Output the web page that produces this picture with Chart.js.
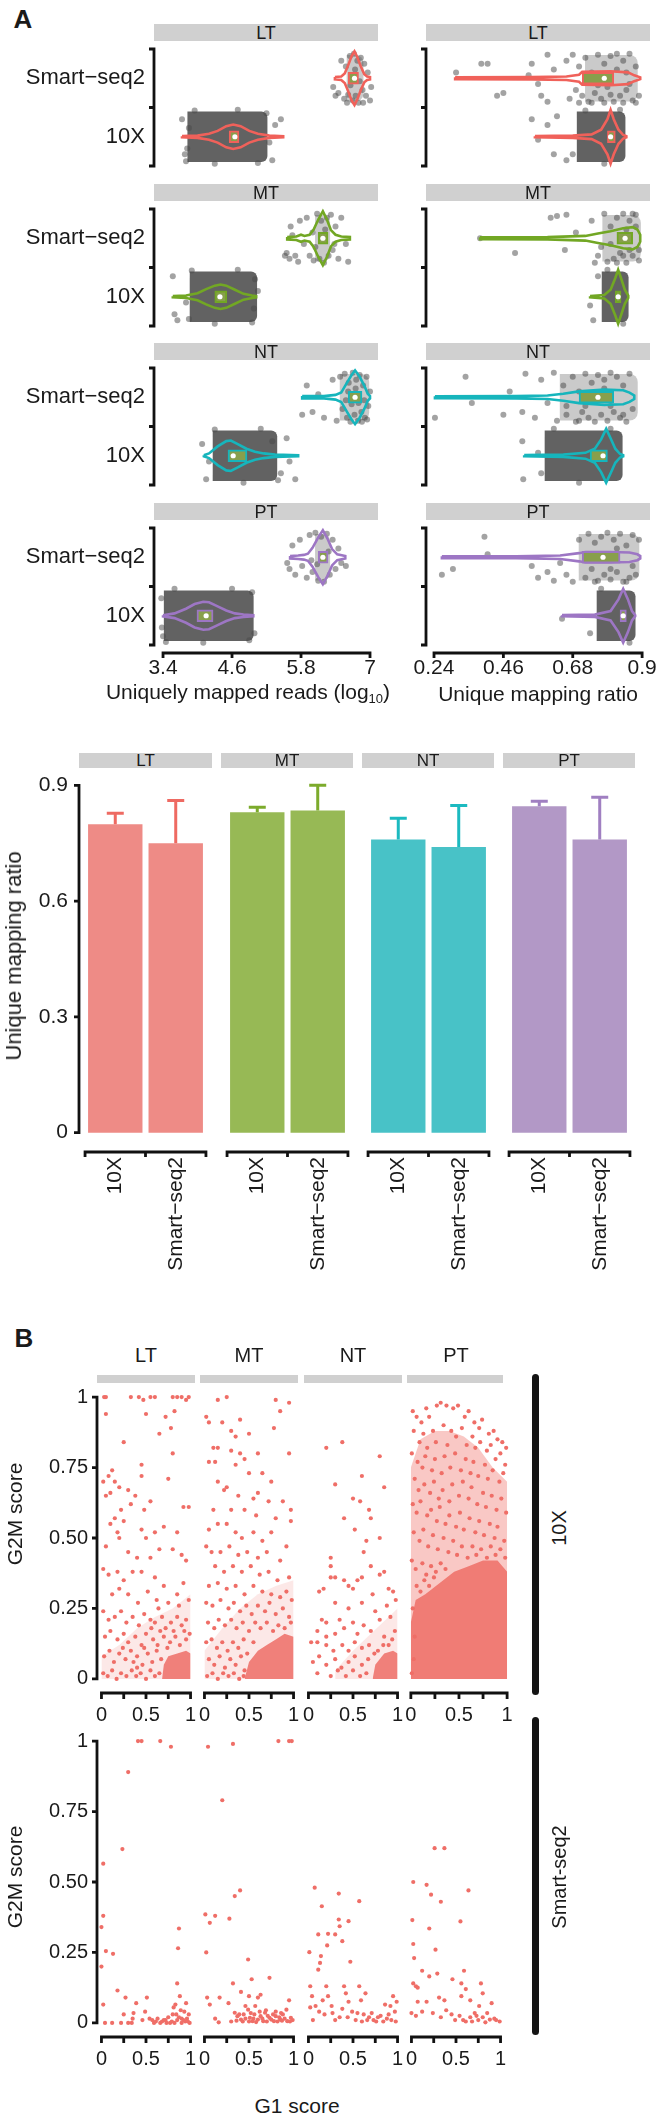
<!DOCTYPE html>
<html>
<head>
<meta charset="utf-8">
<script src="https://cdn.jsdelivr.net/npm/chart.js@4.4.1/dist/chart.umd.min.js"></script>
<style>
html, body { margin: 0; padding: 0; background: #fff; overflow: hidden; }
body { width: 658px; height: 2119px; position: relative; font-family: "Liberation Sans", Arial, sans-serif; color: #1a1a1a; }
canvas { position: absolute; }
.strip { position: absolute; background: #d0d0d0; text-align: center; }
.lbl { position: absolute; white-space: nowrap; line-height: 1; transform: translate(-50%, -50%); }
.vlbl { position: absolute; white-space: nowrap; line-height: 1; transform: translate(-50%, -50%) rotate(-90deg); }
.facetbar { position: absolute; background: #141414; border-radius: 4px; }
sub { font-size: 13px; vertical-align: -4px; }
</style>
</head>
<body>
<script>
// ---- panel A, top: uniquely mapped reads (log10) and unique mapping ratio ----
const tissues = ['LT', 'MT', 'NT', 'PT'];
const platforms = ['Smart\u2212seq2', '10X'];
const readsTicks = [3.4, 4.6, 5.8, 7];
const ratioTicks = [0.24, 0.46, 0.68, 0.9];
const readsRange = [3.243, 7.139];
const ratioRange = [0.2146, 0.925];

// violin profiles: [value, half width in category units]
const readsViolinSS2 = [
  [[6.39,0.02],[6.5,0.03],[6.56,0.08],[6.62,0.22],[6.68,0.38],[6.73,0.46],[6.78,0.36],[6.84,0.2],[6.9,0.07],[6.95,0.03],[7.0,0.02]],
  [[5.56,0.02],[5.72,0.03],[5.8,0.06],[5.86,0.04],[5.95,0.06],[6.02,0.15],[6.1,0.32],[6.18,0.46],[6.25,0.32],[6.32,0.14],[6.4,0.06],[6.5,0.03],[6.65,0.02]],
  [[5.82,0.02],[6.2,0.02],[6.4,0.04],[6.5,0.08],[6.6,0.25],[6.68,0.38],[6.74,0.46],[6.82,0.35],[6.9,0.2],[6.96,0.06],[7.0,0.02]],
  [[5.61,0.02],[5.75,0.03],[5.85,0.04],[5.92,0.06],[6.0,0.16],[6.1,0.34],[6.18,0.46],[6.26,0.32],[6.34,0.14],[6.43,0.05],[6.57,0.02]]
];
const readsViolin10X = [
  [[3.73,0.01],[4.0,0.02],[4.2,0.05],[4.35,0.1],[4.5,0.18],[4.62,0.21],[4.75,0.18],[4.9,0.1],[5.05,0.05],[5.25,0.02],[5.49,0.01]],
  [[3.57,0.01],[3.8,0.02],[4.0,0.06],[4.15,0.13],[4.3,0.19],[4.4,0.21],[4.5,0.19],[4.65,0.12],[4.8,0.05],[4.95,0.02],[5.02,0.01]],
  [[4.11,0.01],[4.2,0.04],[4.35,0.16],[4.5,0.25],[4.58,0.26],[4.7,0.2],[4.85,0.12],[5.0,0.07],[5.15,0.04],[5.35,0.02],[5.75,0.01]],
  [[3.4,0.01],[3.6,0.04],[3.8,0.12],[3.95,0.2],[4.1,0.24],[4.2,0.23],[4.35,0.16],[4.5,0.09],[4.65,0.04],[4.8,0.02],[4.97,0.01]]
];
// boxes: [q1, median, q3]
const readsBoxSS2 = [[6.62,6.73,6.8],[6.1,6.18,6.27],[6.62,6.74,6.86],[6.1,6.18,6.27]];
const readsBox10X = [[4.55,4.65,4.72],[4.3,4.39,4.51],[4.53,4.62,4.86],[3.99,4.15,4.27]];
// range where the cells pile up into a cloud
const readsCloud10X = [[3.83,5.21],[3.87,5.03],[4.27,5.38],[3.42,4.97]];
const readsCloudSS2 = [[6.6,6.88],[6.05,6.3],[6.48,6.98],[6.05,6.3]];
// single cells: value, jitter
const readsPointsSS2 = [
  [6.36,0.15, 6.4,0.3, 6.45,0.25, 6.5,-0.3, 6.55,0.35, 6.58,-0.2, 6.62,0.28, 6.65,-0.38, 6.7,0.38, 6.72,-0.42, 6.75,0.3, 6.78,-0.3, 6.8,0.42, 6.84,-0.35, 6.87,0.2, 6.9,-0.25, 6.93,0.3, 6.96,-0.1, 7.0,0.38, 7.02,0.15, 6.66,0.12, 6.82,0.05, 6.74,-0.15, 6.6,0.42, 6.88,0.42],
  [5.52,0.3, 5.55,0.25, 5.6,0.35, 5.62,-0.2, 5.7,0.3, 5.75,0.4, 5.78,-0.3, 5.85,0.1, 5.9,-0.35, 5.95,0.3, 6.0,-0.1, 6.02,0.38, 6.08,-0.42, 6.12,0.35, 6.15,-0.3, 6.2,0.42, 6.25,-0.35, 6.28,0.3, 6.32,-0.4, 6.35,0.2, 6.4,-0.2, 6.45,0.35, 6.5,-0.35, 6.58,0.1, 6.62,0.4, 5.65,-0.05, 6.05,0.15, 6.22,-0.15, 6.38,0.1],
  [5.82,0.3, 5.9,-0.2, 6.0,0.25, 6.1,-0.05, 6.2,0.35, 6.35,-0.3, 6.42,0.4, 6.48,-0.35, 6.52,0.2, 6.56,-0.4, 6.6,0.35, 6.63,-0.25, 6.66,0.42, 6.7,-0.42, 6.73,0.3, 6.76,-0.3, 6.79,0.4, 6.82,-0.38, 6.85,0.25, 6.88,-0.2, 6.91,0.35, 6.94,-0.35, 6.97,0.15, 7.0,-0.1, 6.58,0.05, 6.68,0.12, 6.8,0.1, 6.9,0.05, 6.62,-0.1, 6.75,-0.15, 6.86,0.42, 6.95,0.38],
  [5.56,0.1, 5.6,0.2, 5.65,-0.2, 5.7,0.3, 5.78,-0.3, 5.82,0.15, 5.9,0.35, 5.95,-0.38, 6.0,0.25, 6.05,-0.42, 6.1,0.4, 6.15,-0.35, 6.2,0.42, 6.25,-0.4, 6.3,0.3, 6.35,-0.3, 6.4,0.2, 6.45,-0.15, 6.5,0.1, 6.58,0.15, 6.08,0.12, 6.28,-0.1, 5.98,0.05]
];
const readsPoints10X = [
  [3.73,-0.3, 3.78,0.3, 5.45,-0.3, 5.3,0.4, 5.35,-0.2, 3.85,-0.15, 3.8,0.42, 5.25,0.1, 3.95,-0.45, 4.3,0.46, 4.7,-0.46, 5.05,0.45, 5.2,-0.4, 3.82,0.2],
  [3.57,-0.35, 3.6,0.3, 3.65,0.4, 5.05,-0.1, 4.98,0.2, 5.0,-0.3, 3.8,0.1, 3.9,-0.45, 4.3,0.46, 4.7,-0.46, 4.95,0.44, 3.85,0.38],
  [4.08,-0.2, 4.15,0.4, 5.55,-0.3, 5.6,0.1, 5.7,0.4, 5.45,0.3, 5.3,-0.25, 4.2,0.1, 4.3,-0.45, 4.8,0.46, 5.1,-0.46, 5.4,0.42],
  [3.37,-0.3, 3.38,0.2, 3.4,0.35, 4.95,-0.4, 4.99,0.3, 4.9,0.42, 3.6,-0.46, 4.1,0.46, 4.6,-0.46, 3.45,0.45]
];

const ratioViolinSS2 = [
  [[0.307,0.015],[0.55,0.02],[0.66,0.03],[0.7,0.06],[0.71,0.11],[0.8,0.12],[0.855,0.1],[0.875,0.05],[0.894,0.015]],
  [[0.386,0.015],[0.6,0.02],[0.72,0.04],[0.76,0.08],[0.8,0.12],[0.84,0.17],[0.87,0.19],[0.885,0.15],[0.894,0.06]],
  [[0.243,0.015],[0.5,0.02],[0.6,0.03],[0.65,0.06],[0.7,0.1],[0.78,0.13],[0.84,0.12],[0.86,0.08],[0.875,0.03]],
  [[0.265,0.015],[0.5,0.015],[0.64,0.03],[0.7,0.07],[0.72,0.09],[0.8,0.09],[0.86,0.08],[0.885,0.05],[0.894,0.02]]
];
const ratioViolin10X = [
  [[0.56,0.01],[0.68,0.02],[0.74,0.04],[0.77,0.12],[0.79,0.3],[0.8,0.46],[0.81,0.3],[0.825,0.12],[0.84,0.03],[0.85,0.01]],
  [[0.735,0.01],[0.78,0.03],[0.8,0.12],[0.815,0.32],[0.824,0.46],[0.833,0.32],[0.845,0.12],[0.856,0.02]],
  [[0.526,0.01],[0.65,0.02],[0.72,0.05],[0.75,0.12],[0.77,0.28],[0.786,0.46],[0.8,0.3],[0.815,0.12],[0.83,0.03],[0.84,0.01]],
  [[0.646,0.01],[0.75,0.02],[0.8,0.08],[0.825,0.28],[0.84,0.46],[0.855,0.28],[0.868,0.08],[0.878,0.01]]
];
const ratioBoxSS2 = [[0.71,0.78,0.81],[0.82,0.846,0.87],[0.7,0.76,0.81],[0.71,0.776,0.83]];
const ratioBox10X = [[0.79,0.8,0.815],[0.815,0.824,0.833],[0.735,0.776,0.79],[0.83,0.84,0.85]];
const ratioCloud10X = [[0.694,0.846],[0.773,0.856],[0.592,0.837],[0.757,0.878]];
const ratioCloudSS2 = [[0.72,0.885],[0.775,0.895],[0.64,0.885],[0.7,0.89]];
const ratioPointsSS2 = [
  [0.31,-0.1, 0.39,-0.25, 0.41,-0.25, 0.44,0.3, 0.46,0.25, 0.54,-0.05, 0.55,-0.25, 0.57,0.1, 0.58,0.3, 0.6,0.4, 0.6,-0.4, 0.62,-0.15, 0.66,-0.3, 0.68,-0.4, 0.7,-0.2, 0.71,0.3, 0.72,-0.35, 0.73,0.4, 0.74,-0.1, 0.75,0.25, 0.76,-0.4, 0.77,0.35, 0.78,-0.25, 0.79,0.15, 0.8,-0.38, 0.81,0.4, 0.82,-0.15, 0.83,0.3, 0.84,-0.3, 0.85,0.2, 0.86,-0.42, 0.87,0.38, 0.88,-0.2, 0.89,0.3, 0.67,0.35, 0.69,0.2, 0.76,0.12, 0.8,0.28, 0.84,0.42, 0.86,0.1, 0.88,0.42, 0.74,0.42, 0.7,0.42, 0.78,0.42, 0.82,-0.42, 0.85,-0.1],
  [0.386,0, 0.497,0.25, 0.61,-0.35, 0.63,-0.38, 0.66,-0.4, 0.69,-0.1, 0.655,0.2, 0.74,-0.3, 0.76,0.3, 0.78,-0.42, 0.79,0.4, 0.8,-0.2, 0.81,0.35, 0.82,-0.35, 0.83,0.25, 0.84,-0.42, 0.85,0.42, 0.86,-0.3, 0.87,0.3, 0.88,-0.2, 0.89,0.38, 0.75,0.42, 0.77,0.15, 0.82,0.42, 0.86,0.2, 0.88,-0.4, 0.84,0.3, 0.8,0.1, 0.85,-0.15, 0.87,-0.42, 0.89,0.2],
  [0.243,0.35, 0.34,-0.35, 0.36,0.1, 0.46,0.3, 0.48,-0.1, 0.52,0.25, 0.53,-0.4, 0.56,0.35, 0.58,-0.3, 0.6,0.1, 0.62,-0.42, 0.63,0.4, 0.65,-0.2, 0.66,0.3, 0.68,-0.35, 0.69,0.42, 0.7,-0.1, 0.71,0.25, 0.72,-0.4, 0.73,0.35, 0.74,-0.25, 0.75,0.42, 0.76,-0.38, 0.77,0.3, 0.78,-0.3, 0.79,0.4, 0.8,-0.42, 0.81,0.25, 0.82,-0.35, 0.83,0.35, 0.84,-0.2, 0.85,0.42, 0.86,-0.4, 0.87,0.2, 0.72,0.15, 0.8,0.15, 0.84,0.3, 0.78,-0.15, 0.66,0.15, 0.7,0.4],
  [0.265,0.3, 0.3,0.2, 0.4,-0.35, 0.41,-0.05, 0.55,0.15, 0.57,0.35, 0.6,0.25, 0.62,0.4, 0.64,0.1, 0.66,0.3, 0.68,0.42, 0.7,-0.3, 0.72,0.35, 0.73,-0.4, 0.74,0.2, 0.75,-0.25, 0.76,0.4, 0.77,-0.35, 0.78,0.3, 0.79,-0.42, 0.8,0.38, 0.81,-0.3, 0.82,0.25, 0.83,-0.4, 0.84,0.42, 0.85,-0.2, 0.86,0.35, 0.87,-0.38, 0.88,0.3, 0.89,-0.3, 0.75,0.42, 0.85,0.42, 0.8,0.2, 0.87,0.15, 0.82,-0.15]
];
const ratioPoints10X = [
  [0.55,-0.3, 0.57,0.05, 0.6,-0.2, 0.62,0.3, 0.63,-0.35, 0.66,0.4, 0.68,0.3, 0.72,-0.45, 0.78,0.46, 0.83,-0.46],
  [0.735,0.15, 0.76,-0.35, 0.745,0.4, 0.79,-0.46, 0.84,0.46],
  [0.523,0.4, 0.52,-0.25, 0.57,-0.05, 0.58,0.3, 0.62,-0.46, 0.7,0.46, 0.8,-0.46],
  [0.646,0.05, 0.735,0.3, 0.77,-0.46, 0.86,0.46]
];

// ---- panel A, bottom: unique mapping ratio, mean and sd ----
const barGroups = ['10X', 'Smart\u2212seq2'];
const barTicks = [0, 0.3, 0.6, 0.9];
const barMeans10X = [0.799, 0.830, 0.760, 0.846];
const barMeansSS2 = [0.750, 0.835, 0.740, 0.760];
const barSd10X = [0.029, 0.013, 0.055, 0.013];
const barSdSS2 = [0.111, 0.065, 0.108, 0.109];

// ---- panel B: G1 score vs G2M score ----
const cycleTicks = [0, 0.25, 0.5, 0.75, 1];
const cycleXLabels = ['0', '', '0.5', '', '1'];
const cycleYLabels = ['0', '0.25', '0.50', '0.75', '1'];
const cycle10X = [
  [0.03,1, 0.05,1, 0.33,1, 0.42,1, 0.47,0.99, 0.55,1, 0.6,1, 0.8,1, 0.85,1, 0.9,1, 0.95,0.99, 0.98,1,
   0.05,0.94, 0.5,0.94, 0.25,0.84, 0.65,0.87, 0.72,0.93, 0.78,0.89, 0.82,0.95, 0.8,0.8, 0.75,0.71, 0.92,0.61, 0.98,0.61,
   0.02,0.7, 0.08,0.72, 0.12,0.74, 0.15,0.7, 0.2,0.68, 0.3,0.67, 0.38,0.65, 0.45,0.76, 0.45,0.72, 0.05,0.65, 0.1,0.66, 0.22,0.6, 0.33,0.62, 0.48,0.6, 0.55,0.63,
   0.1,0.55, 0.15,0.57, 0.18,0.52, 0.2,0.5, 0.25,0.56, 0.05,0.47, 0.45,0.53, 0.5,0.5, 0.6,0.52, 0.7,0.54, 0.85,0.52, 0.02,0.39, 0.08,0.37, 0.3,0.45, 0.4,0.43, 0.55,0.43, 0.65,0.46, 0.8,0.46, 0.9,0.44, 0.95,0.42,
   0.18,0.38, 0.25,0.35, 0.35,0.38, 0.45,0.38, 0.6,0.36, 0.7,0.33, 0.85,0.3, 0.92,0.34, 0.12,0.3, 0.2,0.32, 0.3,0.3, 0.52,0.31, 0.62,0.28, 0.75,0.27, 0.98,0.28,
   0.02,0.24, 0.08,0.21, 0.15,0.22, 0.22,0.24, 0.28,0.2, 0.35,0.22, 0.42,0.19, 0.48,0.23, 0.55,0.21, 0.6,0.2, 0.68,0.22, 0.72,0.18, 0.78,0.2, 0.85,0.22, 0.9,0.19, 0.95,0.21,
   0.04,0.15, 0.1,0.17, 0.18,0.14, 0.25,0.16, 0.3,0.13, 0.38,0.15, 0.45,0.12, 0.5,0.16, 0.58,0.14, 0.63,0.12, 0.7,0.15, 0.77,0.13, 0.83,0.15, 0.88,0.12, 0.95,0.14, 0.99,0.16,
   0.03,0.08, 0.09,0.1, 0.14,0.06, 0.2,0.09, 0.27,0.07, 0.33,0.1, 0.4,0.08, 0.46,0.05, 0.52,0.09, 0.57,0.06, 0.62,0.1, 0.67,0.07,
   0.02,0.02, 0.07,0.01, 0.12,0.03, 0.17,0, 0.22,0.02, 0.28,0.01, 0.34,0.03, 0.39,0.01, 0.44,0.02, 0.5,0, 0.55,0.03, 0.6,0.01, 0.65,0.02,
   0.4,0.04, 0.48,0.11, 0.36,0.06, 0.24,0.11, 0.56,0.18, 0.66,0.17, 0.74,0.11, 0.81,0.17, 0.93,0.17, 0.87,0.26, 0.64,0.25, 0.41,0.27],
  [0.15,0.99, 0.25,1, 0.8,0.99, 0.95,0.98,
   0.02,0.93, 0.05,0.91, 0.2,0.91, 0.4,0.92, 0.3,0.88, 0.35,0.86, 0.5,0.87, 0.78,0.89, 0.85,0.95,
   0.1,0.82, 0.15,0.82, 0.3,0.81, 0.4,0.8, 0.45,0.78, 0.6,0.8, 0.95,0.8, 0.05,0.77, 0.12,0.77, 0.35,0.76, 0.5,0.73, 0.65,0.73, 0.75,0.7, 0.15,0.7, 0.22,0.67, 0.25,0.68, 0.38,0.65, 0.55,0.64, 0.6,0.66, 0.72,0.63, 0.88,0.63, 0.97,0.6, 0.1,0.6, 0.3,0.6, 0.45,0.6, 0.58,0.58, 0.8,0.57, 0.97,0.56,
   0.05,0.53, 0.15,0.55, 0.25,0.55, 0.35,0.52, 0.42,0.5, 0.55,0.52, 0.65,0.49, 0.75,0.52, 0.92,0.47, 0.02,0.47, 0.08,0.45, 0.18,0.45, 0.28,0.47, 0.38,0.44, 0.48,0.45, 0.6,0.43, 0.7,0.45, 0.85,0.42,
   0.12,0.4, 0.22,0.38, 0.32,0.4, 0.42,0.38, 0.52,0.4, 0.62,0.37, 0.72,0.38, 0.82,0.35, 0.95,0.36, 0.05,0.33, 0.15,0.34, 0.25,0.32, 0.35,0.33, 0.45,0.3, 0.55,0.33, 0.65,0.31, 0.75,0.3, 0.85,0.29, 0.92,0.31, 0.98,0.28,
   0.02,0.27, 0.09,0.26, 0.18,0.28, 0.27,0.25, 0.33,0.27, 0.4,0.24, 0.47,0.26, 0.53,0.23, 0.6,0.26, 0.68,0.24, 0.73,0.27, 0.8,0.23, 0.88,0.25, 0.95,0.22,
   0.04,0.2, 0.11,0.18, 0.16,0.21, 0.23,0.19, 0.3,0.21, 0.36,0.18, 0.43,0.2, 0.5,0.17, 0.57,0.2, 0.63,0.18, 0.7,0.2, 0.77,0.17, 0.83,0.19, 0.9,0.18, 0.97,0.2,
   0.02,0.13, 0.08,0.14, 0.14,0.11, 0.2,0.13, 0.26,0.1, 0.32,0.13, 0.38,0.11, 0.44,0.14, 0.48,0.09, 0.55,0.13,
   0.05,0.07, 0.11,0.05, 0.17,0.08, 0.23,0.04, 0.29,0.07, 0.35,0.05, 0.41,0.08, 0.45,0.03,
   0.03,0.01, 0.09,0.02, 0.15,0, 0.21,0.02, 0.27,0.01, 0.33,0.02, 0.39,0, 0.44,0.01],
  [0.2,0.82, 0.38,0.84, 0.8,0.79, 0.3,0.69, 0.6,0.72, 0.85,0.68, 0.5,0.64, 0.58,0.63, 0.4,0.57, 0.68,0.6, 0.7,0.57, 0.52,0.53, 0.65,0.49, 0.8,0.5, 0.62,0.45, 0.25,0.43, 0.25,0.4, 0.7,0.4,
   0.25,0.36, 0.3,0.36, 0.4,0.35, 0.45,0.33, 0.55,0.35, 0.6,0.36, 0.8,0.37, 0.85,0.38, 0.12,0.31, 0.17,0.32, 0.5,0.32, 0.72,0.3, 0.9,0.32, 0.95,0.31, 0.3,0.27, 0.45,0.25, 0.6,0.27, 0.75,0.24, 0.88,0.26, 0.98,0.28,
   0.15,0.21, 0.2,0.2, 0.35,0.21, 0.5,0.2, 0.62,0.19, 0.8,0.21, 0.92,0.22, 0.1,0.17, 0.2,0.15, 0.3,0.16, 0.4,0.18, 0.55,0.16, 0.7,0.17, 0.85,0.15, 0.97,0.17,
   0.03,0.13, 0.1,0.13, 0.2,0.12, 0.28,0.1, 0.38,0.12, 0.45,0.1, 0.52,0.13, 0.6,0.11, 0.68,0.12, 0.78,0.1, 0.9,0.12,
   0.05,0.06, 0.12,0.08, 0.2,0.05, 0.3,0.07, 0.37,0.04, 0.45,0.06, 0.52,0.08, 0.6,0.05, 0.67,0.07,
   0.1,0.02, 0.25,0.01, 0.33,0.03, 0.42,0.01, 0.5,0.03, 0.58,0.01, 0.65,0.02, 0.94,0.14, 0.84,0.12, 0.74,0.09],
  [0.02,0.95, 0.06,0.93, 0.11,0.91, 0.16,0.96, 0.19,0.93, 0.27,0.97, 0.31,0.98, 0.37,0.97, 0.44,0.96, 0.49,0.97, 0.56,0.93, 0.6,0.95, 0.66,0.91, 0.71,0.89, 0.74,0.92, 0.81,0.87, 0.86,0.88, 0.9,0.85, 0.95,0.84, 0.99,0.82,
   0.03,0.88, 0.09,0.84, 0.13,0.87, 0.17,0.82, 0.23,0.88, 0.26,0.84, 0.34,0.9, 0.38,0.83, 0.42,0.88, 0.47,0.86, 0.53,0.89, 0.58,0.83, 0.64,0.86, 0.67,0.82, 0.72,0.84, 0.79,0.81, 0.83,0.83, 0.88,0.78, 0.93,0.8, 0.98,0.76,
   0.01,0.8, 0.07,0.77, 0.12,0.75, 0.15,0.79, 0.22,0.74, 0.25,0.78, 0.32,0.73, 0.35,0.79, 0.41,0.75, 0.46,0.8, 0.52,0.74, 0.57,0.78, 0.62,0.73, 0.65,0.77, 0.7,0.72, 0.77,0.76, 0.8,0.71, 0.85,0.74, 0.92,0.7, 0.96,0.73,
   0.04,0.71, 0.08,0.67, 0.14,0.69, 0.2,0.66, 0.24,0.7, 0.29,0.64, 0.33,0.67, 0.4,0.63, 0.43,0.69, 0.5,0.65, 0.54,0.7, 0.6,0.64, 0.63,0.68, 0.69,0.62, 0.75,0.66, 0.78,0.61, 0.84,0.65, 0.89,0.6, 0.94,0.64, 0.99,0.59,
   0.02,0.62, 0.06,0.59, 0.1,0.63, 0.17,0.58, 0.21,0.6, 0.27,0.56, 0.3,0.61, 0.36,0.55, 0.4,0.58, 0.47,0.54, 0.51,0.59, 0.55,0.53, 0.61,0.57, 0.67,0.52, 0.71,0.56, 0.76,0.51, 0.82,0.55, 0.87,0.5, 0.9,0.54, 0.97,0.49,
   0.03,0.52, 0.09,0.49, 0.13,0.53, 0.18,0.47, 0.23,0.51, 0.28,0.46, 0.34,0.5, 0.39,0.45, 0.44,0.49, 0.48,0.44, 0.53,0.47, 0.59,0.43, 0.64,0.47, 0.68,0.44, 0.73,0.46, 0.79,0.43, 0.83,0.47, 0.88,0.44, 0.93,0.46, 0.98,0.43,
   0.01,0.42, 0.05,0.39, 0.12,0.41, 0.16,0.37, 0.21,0.4, 0.26,0.38, 0.31,0.41, 0.36,0.39, 0.06,0.33, 0.1,0.31, 0.14,0.35, 0.19,0.33, 0.24,0.36, 0.02,0.25, 0.04,0.15, 0.03,0.07, 0.01,0.02]
];
// upper edge of the near-solid and of the crowded part of each 10X cloud
const cycleCore10X = [
  [[0.68,0],[0.7,0.05],[0.75,0.08],[0.85,0.09],[0.95,0.1],[1.0,0.09]],
  [[0.45,0],[0.5,0.06],[0.6,0.1],[0.7,0.12],[0.8,0.14],[0.9,0.16],[1.0,0.15]],
  [[0.72,0],[0.75,0.05],[0.85,0.09],[0.95,0.1],[1.0,0.09]],
  [[0.0,0.2],[0.05,0.28],[0.15,0.3],[0.3,0.34],[0.45,0.38],[0.6,0.4],[0.75,0.42],[0.9,0.42],[1.0,0.38]]
];
const cycleHalo10X = [
  [[0.0,0.08],[0.2,0.12],[0.4,0.18],[0.6,0.22],[0.8,0.25],[1.0,0.3]],
  [[0.0,0.1],[0.2,0.18],[0.4,0.25],[0.6,0.3],[0.8,0.33],[1.0,0.35]],
  [[0.3,0.03],[0.5,0.1],[0.7,0.16],[0.9,0.22],[1.0,0.25]],
  [[0.0,0.75],[0.1,0.85],[0.25,0.88],[0.4,0.88],[0.55,0.86],[0.7,0.82],[0.85,0.75],[1.0,0.7]]
];
const cycleSS2 = [
  [0,0.2, 0.02,0.565, 0.02,0.38, 0,0.34, 0.05,0.255, 0.13,0.245, 0.02,0.065, 0.04,0, 0.12,0, 0.18,0.115, 0.235,0.617, 0.3,0.89, 0.27,0.09, 0.25,0.03, 0.22,0, 0.3,0, 0.34,0, 0.36,0.035, 0.39,0.07, 0.41,1, 0.45,1, 0.51,0.09, 0.49,0.04, 0.54,0.015, 0.66,1, 0.63,0.015, 0.72,0.01, 0.78,0.98, 0.77,0, 0.83,0.065, 0.85,0.14, 0.86,0.265, 0.87,0.335, 0.88,0.095, 0.9,0, 0.93,0.04, 0.95,0.07, 0.96,0.015, 0.99,0, 0.82,0, 0.85,0.01, 0.66,0, 0.59,0, 0.73,0, 0.9,0.015, 0.94,0.005, 0.98,0.03, 0.46,0.01, 0.35,0.015, 0.68,0.005, 0.75,0.02, 0.8,0.03, 0.87,0.02, 0.92,0.01, 0.57,0.01, 0.61,0.005, 0.7,0.01, 0.79,0.005, 0.84,0.03, 0.97,0.005, 0.89,0.045, 0.81,0.055],
  [0.04,0.98, 0.32,0.99, 0.83,1, 0.95,1, 0.98,1, 0.2,0.79, 0.01,0.385, 0.12,0.38, 0.06,0.355, 0.28,0.37, 0.34,0.45, 0.4,0.47, 0.02,0.25, 0.32,0.14, 0.49,0.225, 0.53,0.155, 0.73,0.16, 0.41,0.11, 0.63,0.1, 0.6,0.09, 0.03,0.09, 0.06,0.065, 0.17,0.09, 0.27,0.07, 0.12,0.015, 0.16,0.002,
   0.34,0.036, 0.37,0.024, 0.41,0.012, 0.44,0.03, 0.49,0.047, 0.51,0.018, 0.54,0.006, 0.56,0.03, 0.6,0.012, 0.63,0.024, 0.66,0.006, 0.68,0.036, 0.73,0.018, 0.78,0.006, 0.8,0.024, 0.85,0.012, 0.88,0.03, 0.93,0.006, 0.97,0.018, 0.95,0.08, 0.92,0.047,
   0.3,0.005, 0.36,0.008, 0.39,0.03, 0.43,0.005, 0.46,0.015, 0.5,0.005, 0.52,0.035, 0.55,0.015, 0.58,0.003, 0.62,0.04, 0.65,0.015, 0.7,0.005, 0.71,0.025, 0.75,0.012, 0.77,0.03, 0.82,0.005, 0.84,0.02, 0.87,0.008, 0.9,0.015, 0.96,0.005, 0.99,0.01, 0.46,0.06, 0.5,0.095, 0.57,0.06, 0.69,0.045, 0.8,0.04, 0.86,0.035],
  [0.07,0.48, 0.15,0.414, 0.01,0.251, 0.11,0.314, 0.22,0.316, 0.3,0.314, 0.21,0.275, 0.14,0.237, 0.13,0.213, 0.11,0.189, 0.34,0.459, 0.34,0.367, 0.35,0.343, 0.38,0.29, 0.45,0.361, 0.47,0.217, 0.57,0.432,
   0.02,0.13, 0.04,0.095, 0.02,0.055, 0.05,0.01, 0.16,0.08, 0.2,0.13, 0.22,0.095, 0.26,0.06, 0.27,0.035, 0.3,0.01, 0.38,0.05, 0.4,0.13, 0.42,0.105, 0.45,0.075, 0.49,0.04, 0.57,0.13, 0.59,0.08, 0.64,0.105, 0.66,0.01, 0.71,0.035, 0.76,0.005, 0.81,0.025, 0.86,0.065, 0.9,0.03, 0.95,0.095, 0.98,0.005,
   0.53,0.01, 0.6,0.005, 0.68,0.02, 0.73,0.01, 0.78,0.02, 0.84,0.005, 0.88,0.015, 0.93,0.01, 0.97,0.04, 0.55,0.035, 0.62,0.03, 0.35,0.02, 0.12,0.04, 0.08,0.06, 0.18,0.03, 0.44,0.02, 0.92,0.06, 0.99,0.075],
  [0.01,0.365, 0.02,0.28, 0.03,0.23, 0.02,0.5, 0.17,0.49, 0.22,0.455, 0.26,0.62, 0.37,0.62, 0.33,0.43, 0.2,0.335, 0.27,0.26, 0.64,0.47, 0.55,0.36, 0.12,0.185, 0.2,0.165, 0.29,0.175, 0.46,0.155, 0.59,0.185, 0.56,0.14, 0.78,0.14,
   0.02,0.14, 0.05,0.13, 0.07,0.125, 0,0.035, 0.05,0.025, 0.07,0.075, 0.17,0.075, 0.24,0.035, 0.31,0.09, 0.37,0.08, 0.39,0.045, 0.33,0.02, 0.49,0.01, 0.54,0.025, 0.56,0.095, 0.61,0.12, 0.66,0.08, 0.71,0.035, 0.76,0.06, 0.8,0.105, 0.85,0.035, 0.9,0.07, 0.95,0.01, 0.99,0.005,
   0.68,0.005, 0.75,0.01, 0.83,0.002, 0.88,0.012, 0.61,0.005, 0.66,0.02, 0.73,0.025, 0.58,0.01, 0.8,0.02, 0.93,0.015, 0.45,0.03, 0.12,0.04]
];

// ---- colours ----
const tissueLine = ['#F0615A', '#72A724', '#16B5BC', '#9D76C4'];
const barFill = ['#EE8B86', '#97B955', '#48C2C7', '#B298C6'];
const barLine = ['#EE6A62', '#7CAB2C', '#1CBAC0', '#A07FC1'];
const boxFill = '#889F4C';
const greyDot = 'rgba(72,72,72,0.5)';
const cycleDot = '#EF6E67';

Chart.defaults.font.family = "'Liberation Sans', Arial, sans-serif";
Chart.defaults.color = '#1a1a1a';
Chart.defaults.animation = false;
Chart.defaults.responsive = false;
Chart.defaults.devicePixelRatio = 1;
Chart.defaults.plugins.legend.display = false;
Chart.defaults.plugins.tooltip.enabled = false;

// axis lines that stop at the outer ticks (ggplot capped axes)
const cappedAxes = {
  id: 'capped',
  afterDraw(chart, args, o) {
    const ctx = chart.ctx, a = chart.chartArea, lw = o.lw || 2.8;
    ctx.save();
    ctx.strokeStyle = '#111';
    ctx.lineWidth = lw;
    if (o.x) {
      const s = chart.scales.x, y = a.bottom + (o.x.off || 0);
      const p = o.x.at.map(v => s.getPixelForValue(v));
      ctx.beginPath();
      ctx.moveTo(p[0] - lw / 2, y);
      ctx.lineTo(p[p.length - 1] + lw / 2, y);
      p.forEach(px => { ctx.moveTo(px, y); ctx.lineTo(px, y + o.x.len); });
      ctx.stroke();
    }
    if (o.y) {
      const s = chart.scales.y, x = a.left - (o.y.off || 0);
      const p = o.y.at.map(v => s.getPixelForValue(v));
      ctx.beginPath();
      ctx.moveTo(x, Math.min(...p) - lw / 2);
      ctx.lineTo(x, Math.max(...p) + lw / 2);
      p.forEach(py => { ctx.moveTo(x, py); ctx.lineTo(x - o.y.len, py); });
      ctx.stroke();
    }
    ctx.restore();
  }
};

const errorBars = {
  id: 'errorBars',
  afterDatasetsDraw(chart, args, o) {
    if (!o.sd) return;
    const ctx = chart.ctx, ys = chart.scales.y;
    const ds = chart.data.datasets[0];
    ctx.save();
    ctx.strokeStyle = o.color;
    ctx.lineWidth = 3;
    chart.getDatasetMeta(0).data.forEach((bar, i) => {
      const top = ys.getPixelForValue(ds.data[i].y + o.sd[i]);
      ctx.beginPath();
      ctx.moveTo(bar.x, bar.y);
      ctx.lineTo(bar.x, top);
      ctx.moveTo(bar.x - o.cap / 2, top);
      ctx.lineTo(bar.x + o.cap / 2, top);
      ctx.stroke();
    });
    ctx.restore();
  }
};
Chart.register(cappedAxes, errorBars);

// canvas placed so that the chart area lands on area = [x0, y0, x1, y1]
// (top/bottom padding is larger than the half-label room Chart.js asks for)
function place(area, yW, xH, pad) {
  const c = document.createElement('canvas');
  c.width = Math.round(area[2] - area[0] + yW + pad.l + pad.r);
  c.height = Math.round(area[3] - area[1] + pad.t + xH + pad.b);
  c.style.left = Math.round(area[0] - yW - pad.l) + 'px';
  c.style.top = Math.round(area[1] - pad.t) + 'px';
  document.body.appendChild(c);
  return c;
}

function jitter(flat, c) {
  const out = [];
  for (let i = 0; i < flat.length; i += 2) out.push({x: flat[i], y: c + flat[i + 1]});
  return out;
}
function outline(profile, c) {
  const up = profile.map(p => ({x: p[0], y: c - p[1]}));
  const down = profile.slice().reverse().map(p => ({x: p[0], y: c + p[1]}));
  return up.concat(down, [up[0]]);
}
function quietScale(extra) {
  return Object.assign({
    type: 'linear', offset: false, beginAtZero: false,
    grid: {display: false, drawTicks: false, offset: false},
    border: {display: false}
  }, extra);
}

function violinPanel(t, reads) {
  const top = Math.round(49 + 159.7 * t);
  const area = reads ? [154, top, 378, top + 117] : [426, top, 650, top + 117];
  const last = t === 3;
  const yW = reads ? 154 : 34, xH = last ? 50 : 0;
  const pad = {l: 0, t: 30, r: reads ? 14 : 22, b: last ? 6 : 30};
  const ticks = reads ? readsTicks : ratioTicks;
  const range = reads ? readsRange : ratioRange;
  const vS = (reads ? readsViolinSS2 : ratioViolinSS2)[t];
  const vX = (reads ? readsViolin10X : ratioViolin10X)[t];
  const bS = (reads ? readsBoxSS2 : ratioBoxSS2)[t];
  const bX = (reads ? readsBox10X : ratioBox10X)[t];
  const pS = (reads ? readsPointsSS2 : ratioPointsSS2)[t];
  const pX = (reads ? readsPoints10X : ratioPoints10X)[t];
  const cloudX = (reads ? readsCloud10X : ratioCloud10X)[t];
  const cloudS = (reads ? readsCloudSS2 : ratioCloudSS2)[t];
  const col = tissueLine[t];
  const canvas = place(area, yW, xH, pad);
  new Chart(canvas, {
    type: 'scatter',
    data: {datasets: [
      {data: [{x: bS[1], y: 1}, {x: bX[1], y: 2}], pointRadius: 2.6, backgroundColor: '#fff', borderWidth: 0},
      {type: 'bar', indexAxis: 'y', grouped: false, data: [{y: 1, x: [bS[0], bS[2]]}, {y: 2, x: [bX[0], bX[2]]}],
       backgroundColor: boxFill, borderColor: col, borderWidth: 2, borderSkipped: false,
       maxBarThickness: 12, categoryPercentage: 1, barPercentage: 1},
      {data: outline(vS, 1), showLine: true, pointRadius: 0, borderColor: col, borderWidth: 2.6, fill: false},
      {data: outline(vX, 2), showLine: true, pointRadius: 0, borderColor: col, borderWidth: 2.6, fill: false},
      {data: jitter(pS, 1), pointRadius: 3, backgroundColor: greyDot, borderWidth: 0},
      {data: jitter(pX, 2), pointRadius: 3, backgroundColor: greyDot, borderWidth: 0},
      {type: 'bar', indexAxis: 'y', grouped: false, data: [{y: 2, x: cloudX}], backgroundColor: '#626262',
       maxBarThickness: 50, categoryPercentage: 1, barPercentage: 1, borderRadius: 6},
      {type: 'bar', indexAxis: 'y', grouped: false, data: [{y: 1, x: cloudS}], backgroundColor: 'rgba(90,90,90,0.32)',
       maxBarThickness: 46, categoryPercentage: 1, barPercentage: 1, borderRadius: 8}
    ]},
    options: {
      clip: false,
      layout: {padding: {left: pad.l, top: pad.t, right: pad.r, bottom: pad.b}},
      scales: {
        x: quietScale({min: range[0], max: range[1], display: last,
          afterBuildTicks: s => { s.ticks = ticks.map(v => ({value: v})); },
          afterFit: s => { s.height = xH; },
          ticks: {autoSkip: false, maxRotation: 0, padding: 11, font: {size: 21}, callback: (v, i) => String(ticks[i])}}),
        y: quietScale({min: 0.5, max: 2.5, reverse: true,
          afterBuildTicks: s => { s.ticks = [{value: 1}, {value: 2}]; },
          afterFit: s => { s.width = yW; },
          ticks: {autoSkip: false, padding: 9, font: {size: 22}, callback: (v, i) => reads ? platforms[i] : ''}})
      },
      plugins: {capped: {lw: 2.8, y: {at: [0.5, 1.5, 2.5], len: 5}, x: last ? {at: ticks, len: 5, off: 8} : null}}
    }
  });
}

function barPanel(t) {
  const x0 = [79, 221, 362, 503][t];
  const area = [x0, 768, x0 + 133, 1150];
  const first = t === 0;
  const yW = first ? 79 : 0, xH = 130;
  const pad = {l: first ? 0 : 12, t: 30, r: 12, b: 4};
  const canvas = place(area, yW, xH, pad);
  new Chart(canvas, {
    type: 'bar',
    data: {datasets: [{
      data: [{x: 1, y: barMeans10X[t]}, {x: 2, y: barMeansSS2[t]}],
      backgroundColor: barFill[t], categoryPercentage: 1, barPercentage: 0.9
    }]},
    options: {
      layout: {padding: {left: pad.l, top: pad.t, right: pad.r, bottom: pad.b}},
      scales: {
        x: quietScale({min: 0.4, max: 2.6,
          afterBuildTicks: s => { s.ticks = [{value: 1}, {value: 2}]; },
          afterFit: s => { s.height = xH; },
          ticks: {autoSkip: false, minRotation: 90, maxRotation: 90, padding: 7, font: {size: 21}, callback: (v, i) => barGroups[i]}}),
        y: quietScale({min: -0.045, max: 0.945, display: first,
          afterBuildTicks: s => { s.ticks = barTicks.map(v => ({value: v})); },
          afterFit: s => { s.width = yW; },
          ticks: {autoSkip: false, padding: 11, font: {size: 21}, callback: (v, i) => String(barTicks[i])}})
      },
      plugins: {
        capped: {lw: 2.8, x: {at: [0.5, 1.5, 2.5], len: 5, off: 2}, y: first ? {at: barTicks, len: 5} : null},
        errorBars: {sd: [barSd10X[t], barSdSS2[t]], color: barLine[t], cap: 17}
      }
    }
  });
}

function cyclePanel(t, ss2) {
  const y0 = ss2 ? 1727 : 1383;
  const xl = [97, 200, 304, 407][t];
  const wide = !ss2 && t === 3;
  const area = [xl, y0, xl + (wide ? 103 : 98), y0 + 310];
  const xr = wide ? [-0.04, 1.03] : [-0.05, 1.05];
  const first = t === 0;
  const yW = first ? 97 : 0, xH = 40;
  const pad = {l: first ? 0 : 16, t: 30, r: 16, b: 4};
  const datasets = [{data: jitter((ss2 ? cycleSS2 : cycle10X)[t], 0), pointRadius: 2.1, backgroundColor: cycleDot, borderWidth: 0}];
  if (!ss2) {
    datasets.push({data: cycleCore10X[t].map(p => ({x: p[0], y: p[1]})), showLine: true, pointRadius: 0,
      borderWidth: 0, borderColor: 'transparent', fill: 'origin', backgroundColor: 'rgba(239,110,103,0.85)'});
    datasets.push({data: cycleHalo10X[t].map(p => ({x: p[0], y: p[1]})), showLine: true, pointRadius: 0,
      borderWidth: 0, borderColor: 'transparent', fill: 'origin', backgroundColor: t === 3 ? 'rgba(239,110,103,0.38)' : 'rgba(239,110,103,0.16)'});
  }
  const canvas = place(area, yW, xH, pad);
  new Chart(canvas, {
    type: 'scatter',
    data: {datasets},
    options: {
      clip: false,
      layout: {padding: {left: pad.l, top: pad.t, right: pad.r, bottom: pad.b}},
      scales: {
        x: quietScale({min: xr[0], max: xr[1],
          afterBuildTicks: s => { s.ticks = cycleTicks.map(v => ({value: v})); },
          afterFit: s => { s.height = xH; },
          ticks: {autoSkip: false, maxRotation: 0, padding: 10, font: {size: 20}, callback: (v, i) => cycleXLabels[i]}}),
        y: quietScale({min: -0.05, max: 1.05, display: first,
          afterBuildTicks: s => { s.ticks = cycleTicks.map(v => ({value: v})); },
          afterFit: s => { s.width = yW; },
          ticks: {autoSkip: false, padding: 9, font: {size: 20}, callback: (v, i) => cycleYLabels[i]}})
      },
      plugins: {capped: {lw: 2.8, x: {at: cycleTicks, len: 6}, y: first ? {at: cycleTicks, len: 5} : null}}
    }
  });
}

// ---- text and strips ----
function div(cls, css, html) {
  const d = document.createElement('div');
  d.className = cls;
  d.style.cssText = css;
  d.innerHTML = html || '';
  document.body.appendChild(d);
  return d;
}

div('lbl', 'left:23px;top:19px;font-size:26px;font-weight:bold;', 'A');
div('lbl', 'left:24px;top:1338px;font-size:26px;font-weight:bold;', 'B');

tissues.forEach((name, t) => {
  const top = Math.round(24 + 159.7 * t);
  div('strip', `left:154px;top:${top}px;width:224px;height:17px;font-size:18px;line-height:18px;`, name);
  div('strip', `left:426px;top:${top}px;width:224px;height:17px;font-size:18px;line-height:18px;`, name);
  const bx = [79, 221, 362, 503][t];
  div('strip', `left:${bx}px;top:753px;width:${t === 0 ? 133 : 132}px;height:15px;font-size:17px;line-height:16px;`, name);
  const cx = [97, 200, 304, 407][t];
  div('strip', `left:${cx}px;top:1375px;width:${t === 3 ? 96 : 98}px;height:8px;`);
  div('lbl', `left:${cx + 49}px;top:1355px;font-size:20px;`, name);
  violinPanel(t, true);
  violinPanel(t, false);
  barPanel(t);
  cyclePanel(t, false);
  cyclePanel(t, true);
});

div('lbl', 'left:248px;top:693px;font-size:21px;', 'Uniquely mapped reads (log<sub>10</sub>)');
div('lbl', 'left:538px;top:693px;font-size:21px;', 'Unique mapping ratio');
div('vlbl', 'left:14px;top:956px;font-size:22px;', 'Unique mapping ratio');
div('vlbl', 'left:14px;top:1514px;font-size:21px;', 'G2M score');
div('vlbl', 'left:14px;top:1877px;font-size:21px;', 'G2M score');
div('lbl', 'left:297px;top:2105px;font-size:21px;', 'G1 score');
div('facetbar', 'left:532px;top:1374px;width:7px;height:321px;');
div('facetbar', 'left:532px;top:1717px;width:7px;height:318px;');
div('vlbl', 'left:559px;top:1528px;font-size:20px;', '10X');
div('vlbl', 'left:559px;top:1877px;font-size:20px;', 'Smart-seq2');
</script>
</body>
</html>
